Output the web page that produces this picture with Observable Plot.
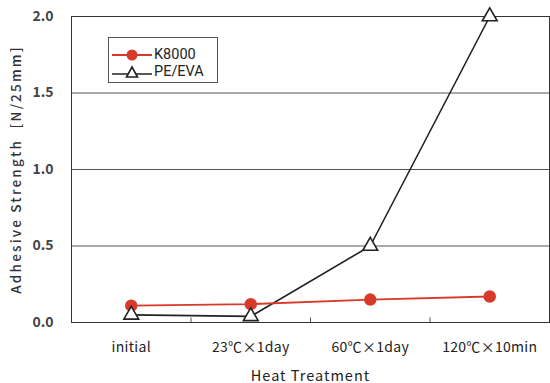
<!DOCTYPE html>
<html>
<head>
<meta charset="utf-8">
<script src="https://cdn.jsdelivr.net/npm/d3@7"></script>
<script src="https://cdn.jsdelivr.net/npm/@observablehq/plot@0.6"></script>
<style>
  html, body { margin: 0; padding: 0; background: #fff; }
  #wrap { position: relative; width: 550px; height: 383px; font-family: "Noto Sans CJK JP", "DejaVu Sans", sans-serif; }
  #legend { position: absolute; left: 108px; top: 37px; width: 108px; height: 44px; border: 1px solid #555; background: #fff; font-family: Roboto, "Liberation Sans", sans-serif; font-size: 14.5px; line-height: 15px; color: #222; }
  #legend .row { position: absolute; left: 3px; height: 15px; line-height: 15px; display: flex; align-items: center; }
  #legend span { display: inline-block; line-height: 15px; height: 15px; }
  #legend svg { margin-right: 2px; }
  #wrap svg [aria-label="y-axis label"] text { letter-spacing: 2.2px; font-size: 13.5px; }
  #wrap svg [aria-label="x-axis label"] text { letter-spacing: 1px; font-size: 14.5px; }
  #wrap svg [aria-label="x-axis tick label"] text { letter-spacing: 0.3px; }
</style>
</head>
<body>
<div id="wrap"></div>
<script>
const categories = ["initial", "23℃×1day", "60℃×1day", "120℃×10min"];
const k8000 = [0.11, 0.12, 0.15, 0.17];
const peEva = [0.05, 0.04, 0.50, 2.00];
const yTicks = [0, 0.5, 1.0, 1.5, 2.0];
const seriesNames = ["K8000", "PE/EVA"];

const red = "#d83a2a";
const dark = "#222";

const rows = [];
categories.forEach((c, i) => {
  rows.push({series: seriesNames[0], i, v: k8000[i]});
  rows.push({series: seriesNames[1], i, v: peEva[i]});
});
const kRows = rows.filter(d => d.series === "K8000");
const pRows = rows.filter(d => d.series === "PE/EVA");

const chart = Plot.plot({
  width: 550,
  height: 383,
  marginLeft: 71,
  marginRight: 1,
  marginTop: 16,
  marginBottom: 61,
  style: {fontFamily: "'Noto Sans CJK JP', sans-serif", background: "#fff"},
  x: {type: "linear", domain: [0, categories.length]},
  y: {domain: [0, 2]},
  marks: [
    Plot.ruleY(yTicks.slice(1), {stroke: "#555", strokeWidth: 1}),
    Plot.axisX(categories.map((c, i) => i + 0.5), {
      tickSize: 0, tickPadding: 20, fontSize: 14, fill: "#222",
      tickFormat: d => categories[Math.floor(d)],
      label: "Heat Treatment", labelAnchor: "center", labelArrow: "none", labelOffset: 58
    }),
    Plot.ruleX(d3.range(1, categories.length), {x: d => d, y1: 0, y2: 0.03, stroke: "#555"}),
    Plot.axisY(yTicks, {
      tickSize: 0, tickPadding: 18, fontSize: 14, fontWeight: "bold", fill: "#444",
      tickFormat: d => d.toFixed(1),
      label: "Adhesive Strength  [N/25mm]", labelAnchor: "center", labelArrow: "none", labelOffset: 60
    }),
    Plot.frame({stroke: "#333"}),
    Plot.line(pRows, {x: d => d.i + 0.5, y: "v", stroke: dark, strokeWidth: 1.6}),
    Plot.line(kRows, {x: d => d.i + 0.5, y: "v", stroke: red, strokeWidth: 1.8}),
    Plot.dot(kRows, {x: d => d.i + 0.5, y: "v", r: 5.5, fill: red, stroke: red}),
    Plot.dot(pRows, {x: d => d.i + 0.5, y: "v", symbol: "triangle", r: 5.5, fill: "#fff", stroke: dark, strokeWidth: 1.6})
  ]
});

const wrap = document.getElementById("wrap");
wrap.appendChild(chart);
// the y-axis label should not be bold like the tick labels
d3.select(chart).selectAll('[aria-label="y-axis label"] text').attr("font-weight", "normal").style("font-weight", "500").attr("fill", "#333");

const legend = document.createElement("div");
legend.id = "legend";
legend.innerHTML = `
  <div class="row" style="top:9px"><svg width="40" height="14"><line x1="0" y1="7" x2="40" y2="7" stroke="${red}" stroke-width="2"/><circle cx="20" cy="7" r="5.5" fill="${red}"/></svg><span>${seriesNames[0]}</span></div>
  <div class="row" style="top:26px"><svg width="40" height="14"><line x1="0" y1="9" x2="40" y2="9" stroke="${dark}" stroke-width="1.6"/><path d="M20,2 L25.5,12 L14.5,12 Z" fill="#fff" stroke="${dark}" stroke-width="1.6"/></svg><span>${seriesNames[1]}</span></div>`;
wrap.appendChild(legend);
</script>
</body>
</html>
